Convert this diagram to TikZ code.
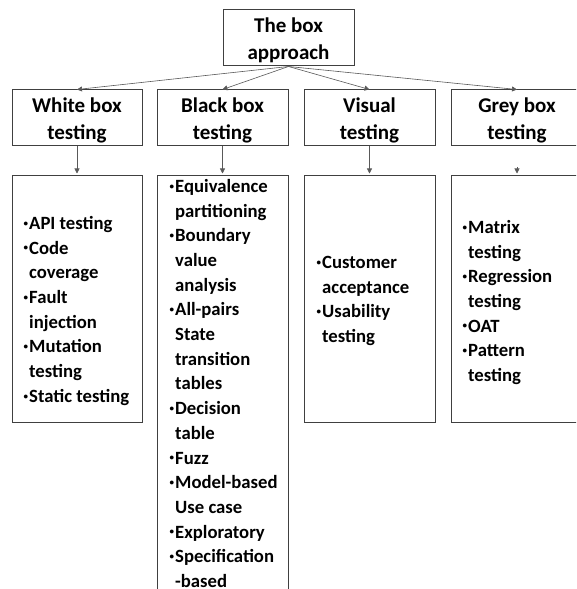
\documentclass[tikz,border=0pt]{standalone}
\usepackage{fontspec}
\setmainfont{Carlito}
\usetikzlibrary{arrows.meta,calc}
\newcommand\hdrfont{\fontsize{21}{27.5}\selectfont\bfseries}
\newcommand\lstfont{\fontsize{18.7}{24.7}\selectfont\bfseries}
\newcommand\bul{\llap{\raisebox{3.2pt}{\fontsize{9}{9}\selectfont\textbullet}\hspace{1.2pt}}}
\newcommand\hs{\rule{0pt}{19.5pt}}
\begin{document}
\begin{tikzpicture}[x=1pt,y=1pt,
  hdr/.style={draw=black!75, line width=1pt, minimum width=131pt, minimum height=56pt, inner sep=0pt, align=center, font=\hdrfont},
  lstbox/.style={draw=black!75, line width=1pt, minimum width=131pt, inner sep=0pt},
  txt/.style={align=left, font=\lstfont, inner sep=0pt, anchor=north west},
  arr/.style={draw=black!65, line width=0.6pt, -{Triangle[width=5pt,length=5pt]}}
]
\clip (0,0) rectangle (576,589);
\fill[white] (0,0) rectangle (576,589);
% top
\node[hdr] (top) at (288.5,551) {\hs The box\\approach};
% level 2
\node[hdr, minimum width=130pt] (wb) at (77,471) {\hs White box\\testing};
\node[hdr] (bb) at (222.5,471) {\hs Black box\\testing};
\node[hdr] (vb) at (369.5,471) {\hs Visual\\testing};
\node[hdr, minimum width=132pt] (gb) at (517,471) {\hs Grey box\\testing};
% level 3 boxes
\node[lstbox, minimum width=130pt, minimum height=247pt] (wl) at (77,289.5) {};
\node[lstbox, minimum height=430pt] (bl) at (222.5,198) {};
\node[lstbox, minimum height=247pt] (vl) at (369.5,289.5) {};
\node[lstbox, minimum width=132pt, minimum height=247pt] (gl) at (517,289.5) {};
% texts
\node[txt] (wt) at (29,373) {\bul API testing\\\bul Code\\coverage\\\bul Fault\\injection\\\bul Mutation\\testing\\\bul Static testing};
\node[txt] (bt) at (175,410) {\bul Equivalence\\partitioning\\\bul Boundary\\value\\analysis\\\bul All-pairs\\State\\transition\\tables\\\bul Decision\\table\\\bul Fuzz\\\bul Model-based\\Use case\\\bul Exploratory\\\bul Specification\\-based};
\node[txt] (vt) at (322,333) {\bul Customer\\acceptance\\\bul Usability\\testing};
\node[txt] (gt) at (468,369) {\bul Matrix\\testing\\\bul Regression\\testing\\\bul OAT\\\bul Pattern\\testing};
% connectors
\draw[arr] (top.south) -- (wb.north);
\draw[arr] (top.south) -- (bb.north);
\draw[arr] (top.south) -- (vb.north);
\draw[arr] (top.south) -- (gb.north);
\draw[arr, shorten >=2pt] (wb.south) -- (wl.north);
\draw[arr, shorten >=2pt] (bb.south) -- (bl.north);
\draw[arr, shorten >=2pt] (vb.south) -- (vl.north);
\coordinate (gs) at ($(gl.north)+(0,8.5)$);
\draw[arr, shorten >=2pt] (gs) -- (gl.north);
\end{tikzpicture}
\end{document}
